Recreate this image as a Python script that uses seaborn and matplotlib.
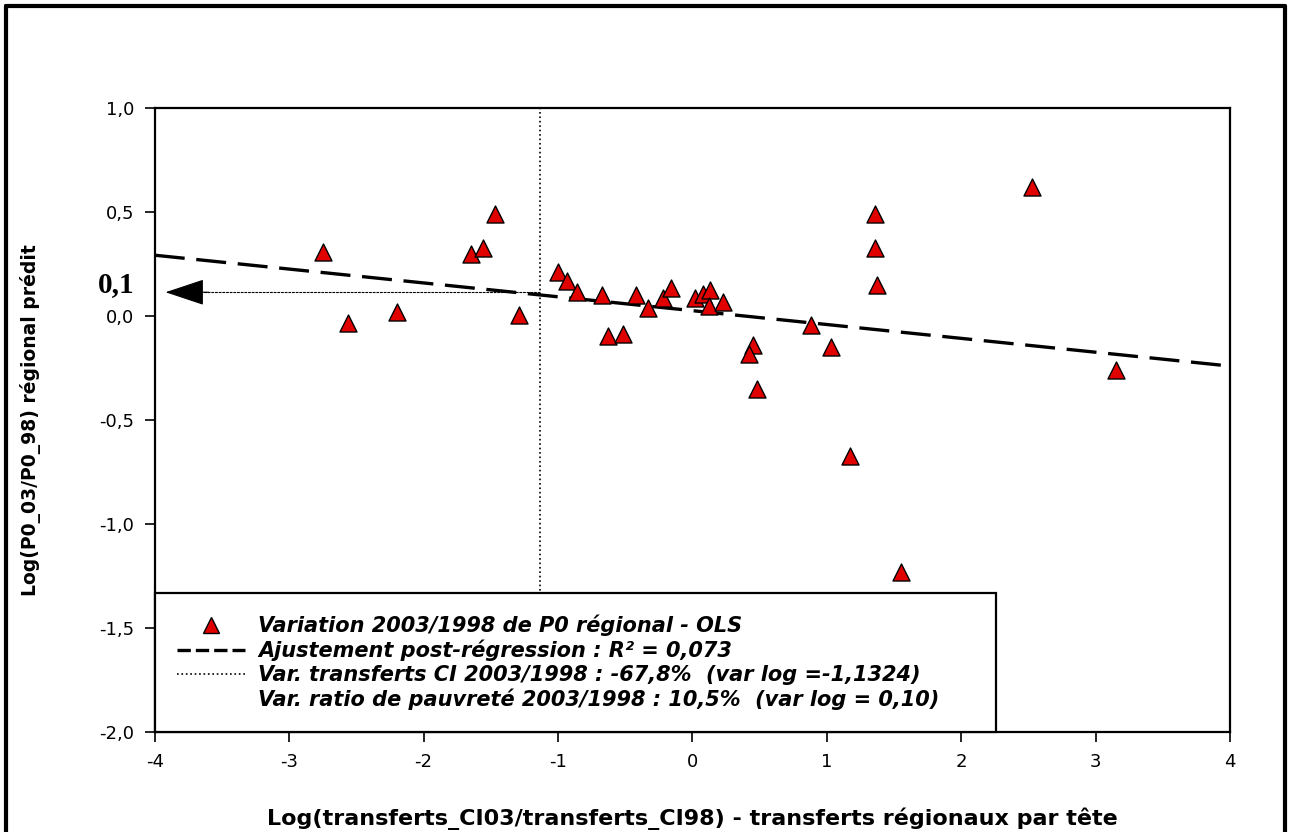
import matplotlib
matplotlib.use("Agg")
import matplotlib.pyplot as plt
import numpy as np
import pandas as pd
import seaborn as sns
from matplotlib.lines import Line2D
from matplotlib.ticker import FuncFormatter

# Points
x_transferts = [-2.75, -2.56, -2.20, -1.65, -1.56, -1.47, -1.29,
                -1.00, -0.93, -0.86, -0.67, -0.63, -0.52, -0.42,
                -0.33, -0.22, -0.16, 0.02, 0.08, 0.13, 0.12, 0.23,
                0.45, 0.42, 0.48, 0.885, 1.03, 1.17, 1.36, 1.36,
                1.37, 1.55, 2.53, 3.15]
y_p0 = [0.31, -0.035, 0.02, 0.30, 0.33, 0.49, 0.005,
        0.21, 0.17, 0.115, 0.10, -0.095, -0.087, 0.10,
        0.04, 0.087, 0.135, 0.087, 0.105, 0.125, 0.05, 0.067,
        -0.14, -0.18, -0.35, -0.043, -0.15, -0.67, 0.49, 0.33,
        0.15, -1.23, 0.62, -0.26]

fit_x = [-4.0, 4.0]
fit_y = [0.293, -0.24]

var_transferts_log = -1.1324
var_pauvrete_log = 0.115

legend_labels = [
    "Variation 2003/1998 de P0 régional - OLS",
    "Ajustement post-régression : R² = 0,073",
    "Var. transferts CI 2003/1998 : -67,8%  (var log =-1,1324)",
    "Var. ratio de pauvreté 2003/1998 : 10,5%  (var log = 0,10)",
]

sns.set_theme(style="white")
plt.rcParams["font.family"] = ["DejaVu Sans"]
plt.rcParams.update({"text.color": "black", "axes.labelcolor": "black",
                     "xtick.color": "black", "ytick.color": "black"})

df = pd.DataFrame({"x": x_transferts, "y": y_p0})

fig = plt.figure(figsize=(12.9, 8.32), dpi=100)
ax = fig.add_axes([0.120, 0.120, 0.8335, 0.750])

ax.axvline(var_transferts_log, color="black", ls=":", lw=1.2, zorder=1)
sns.lineplot(x=fit_x, y=fit_y, ax=ax, color="black", lw=2.4,
             dashes=False, zorder=2)
ax.lines[-1].set_dashes((9, 3.5))
sns.scatterplot(data=df, x="x", y="y", ax=ax, marker="^", s=150,
                color="#e00000", edgecolor="black", linewidth=1.0, zorder=3)

# arrow pointing to the y-axis at the predicted value
ax.plot([var_transferts_log, -3.75], [var_pauvrete_log, var_pauvrete_log],
        color="black", lw=0.8, ls=(0, (2.5, 0.8)), zorder=4)
ax.annotate("", xy=(-3.92, var_pauvrete_log), xytext=(-3.6, var_pauvrete_log),
            arrowprops=dict(arrowstyle="-|>,head_length=0.9,head_width=0.3",
                            color="black", lw=0.8, mutation_scale=28,
                            shrinkA=0, shrinkB=0), zorder=4)
ax.text(-4.29, 0.15, "0,1", family="Liberation Serif", fontweight="bold",
        fontsize=21, ha="center", va="center", clip_on=False)

ax.set_xlim(-4, 4)
ax.set_ylim(-2.0, 1.0)
ax.set_xticks(np.arange(-4, 5, 1))
ax.set_yticks(np.arange(-2.0, 1.01, 0.5))
ax.yaxis.set_major_formatter(FuncFormatter(lambda v, p: f"{v:.1f}".replace(".", ",")))
ax.xaxis.set_major_formatter(FuncFormatter(lambda v, p: f"{v:.0f}"))
ax.tick_params(axis="both", direction="out", length=7, width=1.2, color="black",
               labelsize=13, pad=8, bottom=True, left=True)
for sp in ax.spines.values():
    sp.set_color("black")
    sp.set_linewidth(1.6)

ax.set_xlabel("Log(transferts_CI03/transferts_CI98) - transferts régionaux par tête",
              fontsize=16, fontweight="bold", labelpad=26)
ax.set_ylabel("Log(P0_03/P0_98) régional prédit", fontsize=13.5, fontweight="bold",
              labelpad=42)

handles = [
    Line2D([], [], marker="^", ls="none", markersize=12, markerfacecolor="#e00000",
           markeredgecolor="black"),
    Line2D([], [], color="black", lw=2.4, dashes=(4, 1.5)),
    Line2D([], [], color="black", ls=":", lw=1.2),
    Line2D([], [], ls="none"),
]
leg = ax.legend(handles, legend_labels, loc="lower left", bbox_to_anchor=(0.0, 0.0, 0.782, 0.228),
                mode="expand", borderaxespad=0, frameon=True, fancybox=False,
                edgecolor="black", framealpha=1, handlelength=3.3, handletextpad=0.6,
                labelspacing=0.18, borderpad=1.05,
                prop={"weight": "bold", "style": "italic", "size": 15})
leg.get_frame().set_linewidth(1.6)
leg.set_zorder(5)

# outer frame of the picture
for xs, ys in [([0.005, 0.005], [0.0, 0.993]), ([0.005, 0.996], [0.993, 0.993]),
               ([0.996, 0.996], [0.0, 0.993])]:
    fig.add_artist(Line2D(xs, ys, transform=fig.transFigure, color="black", lw=3))

fig.savefig("out.png", dpi=100)
